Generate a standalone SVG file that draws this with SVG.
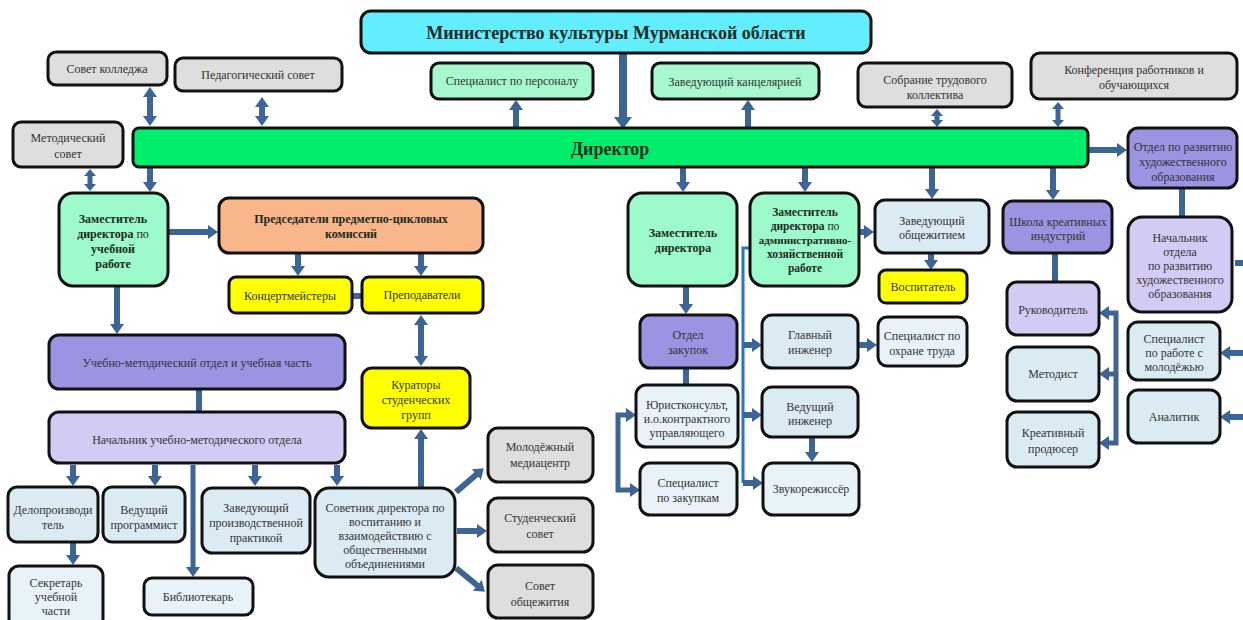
<svg xmlns="http://www.w3.org/2000/svg" width="1243" height="620" viewBox="0 0 1243 620">
<style>
.bx{stroke:#111;stroke-width:3}
.cy{fill:#62eeff}.gr{fill:#00ee6c}.gy{fill:#dedede}.mt{fill:#a8f8cf}.zm{fill:#9cfacb}
.pe{fill:#f9b68b}.ye{fill:#ffff00}.pu{fill:#9b94e2}.lp{fill:#d2ccf5}.lb{fill:#dbebf3}.lw{fill:#e7f3f8}
text{font-family:"Liberation Serif","Times New Roman",serif;font-size:12px;fill:#333;text-anchor:middle}
.bd{font-weight:bold;fill:#1c2b22}
.a{stroke:#3c6494;stroke-width:6;fill:none}
.as{stroke:#3c6494;stroke-width:5;fill:none}
.l{stroke:#3c6494;stroke-width:6;fill:none}
.bl{stroke:#2477c6;stroke-width:3;fill:none}
</style>
<defs>
<marker id="ah" viewBox="0 0 10 14" markerWidth="10" markerHeight="14" refX="1" refY="7" orient="auto-start-reverse" markerUnits="userSpaceOnUse"><path d="M0,0 L10,7 L0,14 Z" fill="#3c6494"/></marker>
<marker id="ahS" viewBox="0 0 7 12" markerWidth="7" markerHeight="12" refX="1" refY="6" orient="auto-start-reverse" markerUnits="userSpaceOnUse"><path d="M0,0 L7,6 L0,12 Z" fill="#3c6494"/></marker>
<marker id="ahL" viewBox="0 0 12 18" markerWidth="12" markerHeight="18" refX="1" refY="9" orient="auto-start-reverse" markerUnits="userSpaceOnUse"><path d="M0,0 L12,9 L0,18 Z" fill="#3c6494"/></marker>
</defs>

<g id="connectors">
<line class="a" x1="623" y1="54" x2="623" y2="118" style="stroke-width:8" marker-end="url(#ahL)"/>
<line class="a" x1="516" y1="127" x2="516" y2="109" marker-end="url(#ah)"/>
<line class="a" x1="748" y1="127" x2="748" y2="109" marker-end="url(#ah)"/>
<line class="a" x1="150" y1="96" x2="150" y2="117" marker-start="url(#ah)" marker-end="url(#ah)"/>
<line class="a" x1="262" y1="106" x2="262" y2="117" marker-start="url(#ah)" marker-end="url(#ah)"/>
<line class="as" x1="937" y1="115" x2="937" y2="121" marker-start="url(#ahS)" marker-end="url(#ahS)"/>
<line class="as" x1="1058" y1="108" x2="1058" y2="121" marker-start="url(#ahS)" marker-end="url(#ahS)"/>
<line class="as" x1="90" y1="175" x2="90" y2="185" marker-start="url(#ahS)" marker-end="url(#ahS)"/>
<line class="a" x1="150" y1="168" x2="150" y2="183" marker-end="url(#ah)"/>
<line class="a" x1="683" y1="168" x2="683" y2="183" marker-end="url(#ah)"/>
<line class="a" x1="805" y1="168" x2="805" y2="183" marker-end="url(#ah)"/>
<line class="a" x1="932" y1="168" x2="932" y2="190" marker-end="url(#ah)"/>
<line class="a" x1="1053" y1="168" x2="1053" y2="191" marker-end="url(#ah)"/>
<line class="a" x1="1089" y1="150" x2="1118" y2="150" marker-end="url(#ah)"/>
<line class="a" x1="169" y1="232" x2="209" y2="232" marker-end="url(#ah)"/>
<line class="a" x1="298" y1="254" x2="298" y2="267" marker-end="url(#ah)"/>
<line class="a" x1="421" y1="254" x2="421" y2="267" marker-end="url(#ah)"/>
<line class="l" x1="352" y1="296" x2="362" y2="296"/>
<line class="a" x1="421" y1="324" x2="421" y2="357" marker-start="url(#ah)" marker-end="url(#ah)"/>
<line class="a" x1="117" y1="287" x2="117" y2="325" marker-end="url(#ah)"/>
<line class="l" x1="199" y1="389" x2="199" y2="412"/>
<line class="a" x1="73" y1="465" x2="73" y2="477" marker-end="url(#ah)"/>
<line class="a" x1="155" y1="465" x2="155" y2="477" marker-end="url(#ah)"/>
<line class="a" x1="255" y1="465" x2="255" y2="477" marker-end="url(#ah)"/>
<line class="a" x1="337" y1="465" x2="337" y2="477" marker-end="url(#ah)"/>
<line class="as" x1="193" y1="465" x2="193" y2="568" marker-end="url(#ah)"/>
<line class="a" x1="73" y1="543" x2="73" y2="556" marker-end="url(#ah)"/>
<line class="a" x1="421" y1="487" x2="421" y2="438" marker-end="url(#ah)"/>
<line class="a" x1="456" y1="492" x2="477" y2="474" marker-end="url(#ah)"/>
<line class="a" x1="457" y1="531" x2="478" y2="531" marker-end="url(#ah)"/>
<line class="a" x1="456" y1="568" x2="478" y2="586" marker-end="url(#ah)"/>
<line class="a" x1="686" y1="287" x2="686" y2="305" marker-end="url(#ah)"/>
<line class="l" x1="686" y1="368" x2="686" y2="385"/>
<path class="a" style="stroke-width:5" d="M627 415 H618 V490 H631" marker-start="url(#ah)" marker-end="url(#ah)"/>
<path class="bl" d="M750 248 H743 V483"/>
<line class="a" x1="743" y1="345" x2="753" y2="345" marker-end="url(#ah)"/>
<line class="a" x1="743" y1="415" x2="753" y2="415" marker-end="url(#ah)"/>
<line class="a" x1="743" y1="483" x2="754" y2="483" marker-end="url(#ah)"/>
<line class="a" x1="860" y1="232" x2="865" y2="232" marker-end="url(#ah)"/>
<line class="a" x1="859" y1="345" x2="868" y2="345" marker-end="url(#ah)"/>
<line class="a" x1="812" y1="438" x2="812" y2="453" marker-end="url(#ah)"/>
<line class="a" x1="931" y1="254" x2="931" y2="261" marker-end="url(#ah)"/>
<line class="l" x1="1055" y1="253" x2="1055" y2="282"/>
<path class="a" style="stroke-width:5" d="M1108 313 H1116 V443 H1108" marker-start="url(#ah)" marker-end="url(#ah)"/>
<line class="a" style="stroke-width:5" x1="1116" y1="374" x2="1108" y2="374" marker-end="url(#ah)"/>
<line class="l" x1="1182" y1="188" x2="1182" y2="217"/>
<line class="a" x1="1243" y1="353" x2="1229" y2="353" marker-end="url(#ah)"/>
<line class="a" x1="1243" y1="417" x2="1229" y2="417" marker-end="url(#ah)"/>
<line class="a" x1="1235" y1="263" x2="1243" y2="263"/>
</g>

<g id="ministry"><rect class="bx cy" x="361" y="11" width="510" height="42" rx="10"/><text class="bd" x="616" y="39" style="font-size:18px">Министерство культуры Мурманской области</text></g>
<g id="sovet-kolledzha"><rect class="bx gy" x="48" y="52" width="119" height="33" rx="8"/><text x="107" y="73">Совет колледжа</text></g>
<g id="ped-sovet"><rect class="bx gy" x="175" y="58" width="167" height="33" rx="8"/><text x="258" y="79">Педагогический совет</text></g>
<g id="metod-sovet"><rect class="bx gy" x="13" y="122" width="110" height="45" rx="8"/><text x="68" y="142">Методический</text><text x="68" y="158">совет</text></g>
<g id="spec-personal"><rect class="bx mt" x="431" y="63" width="162" height="36" rx="8"/><text x="512" y="85">Специалист по персоналу</text></g>
<g id="zav-kanc"><rect class="bx mt" x="652" y="63" width="167" height="36" rx="8"/><text x="735" y="86">Заведующий канцелярией</text></g>
<g id="sobranie"><rect class="bx gy" x="858" y="63" width="154" height="44" rx="8"/><text x="935" y="84">Собрание трудового</text><text x="935" y="99">коллектива</text></g>
<g id="konferenciya"><rect class="bx gy" x="1031" y="53" width="206" height="46" rx="9"/><text x="1134" y="74">Конференция работников и</text><text x="1134" y="89">обучающихся</text></g>
<g id="director"><rect class="bx gr" x="133" y="128" width="955" height="39" rx="6"/><text class="bd" x="610" y="155" style="font-size:18px">Директор</text></g>
<g id="otdel-razv"><rect class="bx pu" x="1128" y="128" width="109" height="60" rx="10"/><text x="1183" y="151">Отдел по развитию</text><text x="1183" y="166">художественного</text><text x="1183" y="181">образования</text></g>
<g id="zam-ucheb"><rect class="bx zm" x="59" y="193" width="109" height="93" rx="14"/><text class="bd" x="113" y="223">Заместитель</text><text class="bd" x="113" y="238">директора <tspan style="font-weight:normal">по</tspan></text><text class="bd" x="113" y="253">учебной</text><text class="bd" x="113" y="268">работе</text></g>
<g id="predsedateli"><rect class="bx pe" x="219" y="198" width="264" height="55" rx="10"/><text class="bd" x="351" y="223">Председатели предметно-цикловых</text><text class="bd" x="351" y="238">комиссий</text></g>
<g id="koncertmeistery"><rect class="bx ye" x="229" y="277" width="123" height="36" rx="7"/><text x="290" y="300">Концертмейстеры</text></g>
<g id="prepodavateli"><rect class="bx ye" x="362" y="277" width="121" height="36" rx="7"/><text x="422" y="299">Преподаватели</text></g>
<g id="umo"><rect class="bx pu" x="49" y="335" width="296" height="54" rx="10"/><text x="197" y="367">Учебно-методический отдел и учебная часть</text></g>
<g id="kuratory"><rect class="bx ye" x="362" y="368" width="108" height="60" rx="10"/><text x="416" y="389">Кураторы</text><text x="416" y="404">студенческих</text><text x="416" y="419">групп</text></g>
<g id="nach-umo"><rect class="bx lp" x="49" y="412" width="296" height="51" rx="10"/><text x="197" y="444">Начальник учебно-методического отдела</text></g>
<g id="deloproizv"><rect class="bx lb" x="8" y="487" width="90" height="55" rx="9"/><text x="53" y="514">Делопроизводи</text><text x="53" y="529">тель</text></g>
<g id="ved-programmist"><rect class="bx lb" x="103" y="487" width="82" height="55" rx="9"/><text x="144" y="514">Ведущий</text><text x="144" y="529">программист</text></g>
<g id="zav-praktikoi"><rect class="bx lb" x="202" y="488" width="108" height="65" rx="10"/><text x="256" y="512">Заведующий</text><text x="256" y="527">производственной</text><text x="256" y="542">практикой</text></g>
<g id="sovetnik"><rect class="bx lb" x="315" y="488" width="140" height="89" rx="14"/><text x="385" y="512">Советник директора по</text><text x="385" y="526">воспитанию и</text><text x="385" y="540">взаимодействию с</text><text x="385" y="554">общественными</text><text x="385" y="568">объединениями</text></g>
<g id="sekretar"><rect class="bx lw" x="9" y="566" width="94" height="62" rx="10"/><text x="56" y="587">Секретарь</text><text x="56" y="601">учебной</text><text x="56" y="615">части</text></g>
<g id="bibliotekar"><rect class="bx lw" x="144" y="578" width="109" height="37" rx="8"/><text x="198" y="601">Библиотекарь</text></g>
<g id="mediacentr"><rect class="bx gy" x="488" y="428" width="105" height="54" rx="10"/><text x="540" y="451">Молодёжный</text><text x="540" y="467">медиацентр</text></g>
<g id="stud-sovet"><rect class="bx gy" x="488" y="498" width="105" height="54" rx="10"/><text x="540" y="522">Студенческий</text><text x="540" y="538">совет</text></g>
<g id="sovet-obsh"><rect class="bx gy" x="488" y="565" width="105" height="53" rx="10"/><text x="540" y="590">Совет</text><text x="540" y="606">общежития</text></g>
<g id="zam-dir"><rect class="bx zm" x="628" y="193" width="109" height="93" rx="14"/><text class="bd" x="683" y="237">Заместитель</text><text class="bd" x="683" y="252">директора</text></g>
<g id="zam-ahr"><rect class="bx zm" x="750" y="193" width="109" height="93" rx="14"/><text class="bd" x="805" y="216" style="font-size:11.5px">Заместитель</text><text class="bd" x="805" y="230" style="font-size:11.5px">директора <tspan style="font-weight:normal">по</tspan></text><text class="bd" x="805" y="244" style="font-size:11px">административно-</text><text class="bd" x="805" y="258" style="font-size:11.5px">хозяйственной</text><text class="bd" x="805" y="272" style="font-size:11.5px">работе</text></g>
<g id="zav-obsh"><rect class="bx lb" x="875" y="200" width="114" height="53" rx="10"/><text x="932" y="225">Заведующий</text><text x="932" y="239">общежитием</text></g>
<g id="vospitatel"><rect class="bx ye" x="879" y="270" width="88" height="33" rx="7"/><text x="923" y="291">Воспитатель</text></g>
<g id="shkola"><rect class="bx pu" x="1003" y="201" width="109" height="52" rx="10"/><text x="1058" y="226">Школа креативных</text><text x="1058" y="240">индустрий</text></g>
<g id="rukovoditel"><rect class="bx lp" x="1007" y="282" width="92" height="53" rx="10"/><text x="1053" y="314">Руководитель</text></g>
<g id="metodist"><rect class="bx lb" x="1007" y="347" width="92" height="54" rx="10"/><text x="1053" y="378">Методист</text></g>
<g id="kreativ-prod"><rect class="bx lb" x="1007" y="412" width="92" height="55" rx="10"/><text x="1053" y="437">Креативный</text><text x="1053" y="453">продюсер</text></g>
<g id="nach-razv"><rect class="bx lp" x="1128" y="217" width="104" height="95" rx="14"/><text x="1180" y="242">Начальник</text><text x="1180" y="256">отдела</text><text x="1180" y="270">по развитию</text><text x="1180" y="284">художественного</text><text x="1180" y="298">образования</text></g>
<g id="spec-molodezh"><rect class="bx lb" x="1128" y="322" width="92" height="58" rx="10"/><text x="1174" y="343">Специалист</text><text x="1174" y="357">по работе с</text><text x="1174" y="371">молодёжью</text></g>
<g id="analitik"><rect class="bx lb" x="1128" y="390" width="92" height="53" rx="10"/><text x="1174" y="421">Аналитик</text></g>
<g id="otdel-zakupok"><rect class="bx pu" x="640" y="315" width="97" height="53" rx="10"/><text x="688" y="339">Отдел</text><text x="688" y="354">закупок</text></g>
<g id="yurist"><rect class="bx lw" x="636" y="385" width="102" height="62" rx="10"/><text x="687" y="409">Юристконсульт,</text><text x="687" y="423">и.о.контрактного</text><text x="687" y="437">управляющего</text></g>
<g id="spec-zakupki"><rect class="bx lw" x="640" y="463" width="97" height="52" rx="10"/><text x="688" y="487">Специалист</text><text x="688" y="502">по закупкам</text></g>
<g id="gl-inzhener"><rect class="bx lb" x="762" y="315" width="96" height="53" rx="10"/><text x="810" y="339">Главный</text><text x="810" y="354">инженер</text></g>
<g id="ved-inzhener"><rect class="bx lb" x="762" y="387" width="96" height="50" rx="10"/><text x="810" y="411">Ведущий</text><text x="810" y="425">инженер</text></g>
<g id="zvukorezh"><rect class="bx lw" x="763" y="463" width="96" height="52" rx="10"/><text x="811" y="493">Звукорежиссёр</text></g>
<g id="spec-ohrana"><rect class="bx lw" x="878" y="317" width="89" height="49" rx="9"/><text x="922" y="340">Специалист по</text><text x="922" y="355">охране труда</text></g>
</svg>
